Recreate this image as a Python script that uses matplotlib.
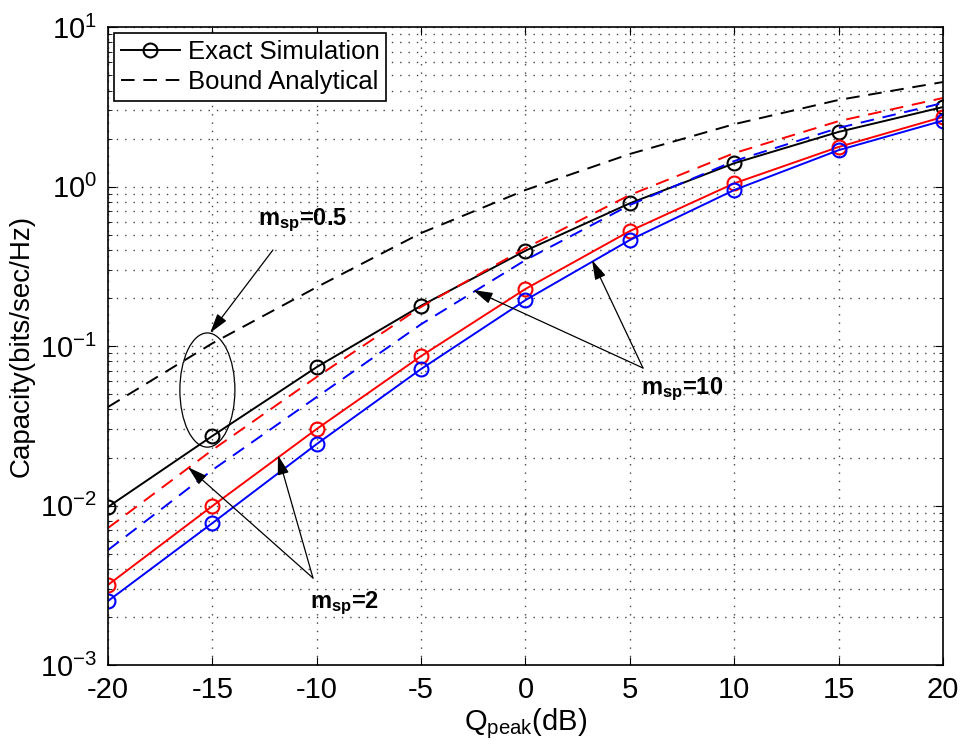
import matplotlib
matplotlib.use('Agg')
import matplotlib.pyplot as plt
from matplotlib.patches import Ellipse
from matplotlib.ticker import LogLocator, FixedLocator

plt.rcParams['font.family'] = ['Liberation Sans', 'DejaVu Sans']
plt.rcParams['mathtext.fontset'] = 'custom'
plt.rcParams['mathtext.rm'] = 'Liberation Sans'
plt.rcParams['mathtext.it'] = 'Liberation Sans'
plt.rcParams['mathtext.bf'] = 'Liberation Sans:bold'
plt.rcParams['axes.unicode_minus'] = False

# Q_peak in dB
q_db = [-20, -15, -10, -5, 0, 5, 10, 15, 20]

# m_sp = 0.5 (black)
exact_05 = [0.0098, 0.0273, 0.0738, 0.179, 0.396, 0.785, 1.40, 2.20, 3.15]
bound_05 = [0.0415, 0.104, 0.234, 0.511, 0.951, 1.60, 2.46, 3.49, 4.52]
# m_sp = 2 (red)
exact_2 = [0.00318, 0.00993, 0.0302, 0.0865, 0.228, 0.526, 1.047, 1.77, 2.73]
bound_2 = [0.00723, 0.0223, 0.0640, 0.176, 0.411, 0.885, 1.62, 2.57, 3.59]
# m_sp = 10 (blue)
exact_10 = [0.00252, 0.00776, 0.0243, 0.0718, 0.194, 0.462, 0.951, 1.69, 2.59]
bound_10 = [0.00526, 0.0167, 0.0479, 0.137, 0.346, 0.766, 1.445, 2.33, 3.34]

x_ticks = [-20, -15, -10, -5, 0, 5, 10, 15, 20]

fig = plt.figure(figsize=(9.62, 7.51), dpi=100)
ax = fig.add_axes([0.1123, 0.1145, 0.8679, 0.8495])

lw = 1.4
ms = 10
dsh = (7, 4.5)
ax.semilogy(q_db, exact_05, '-', color='k', lw=lw, marker='o', ms=ms,
            mfc='none', mew=1.5, label='Exact Simulation')
ax.semilogy(q_db, bound_05, '--', color='k', lw=lw, dashes=dsh,
            label='Bound Analytical')
ax.semilogy(q_db, exact_2, '-', color='r', lw=lw, marker='o', ms=ms,
            mfc='none', mew=1.5)
ax.semilogy(q_db, bound_2, '--', color='r', lw=lw, dashes=dsh)
ax.semilogy(q_db, exact_10, '-', color='b', lw=lw, marker='o', ms=ms,
            mfc='none', mew=1.5)
ax.semilogy(q_db, bound_10, '--', color='b', lw=lw, dashes=dsh)

ax.set_xlim(-20, 20)
ax.set_ylim(1e-3, 1e1)
ax.xaxis.set_major_locator(FixedLocator(x_ticks))
ax.yaxis.set_major_locator(LogLocator(base=10, numticks=10))
ax.yaxis.set_minor_locator(LogLocator(base=10, subs=range(2, 10), numticks=10))

grid_kw = dict(linestyle=(0, (1, 5)), color='#444444', lw=1.0)
ax.grid(True, which='major', **grid_kw)
ax.grid(True, which='minor', axis='y', **grid_kw)
ax.tick_params(which='both', direction='in', top=True, right=True,
               labelsize=21, pad=8)
ax.tick_params(which='major', length=6)
ax.tick_params(which='minor', length=3)
for s in ax.spines.values():
    s.set_linewidth(1.2)

ax.set_xlabel(r'Q$_{\mathrm{peak}}$(dB)', fontsize=21, labelpad=2)
ax.set_ylabel('Capacity(bits/sec/Hz)', fontsize=20, labelpad=4)

leg = ax.legend(loc='upper left', fontsize=18.5, frameon=True, fancybox=False,
                edgecolor='k', framealpha=1, borderaxespad=0.25,
                handlelength=2.3, handletextpad=0.3, borderpad=0.25,
                labelspacing=0.25)
leg.get_frame().set_linewidth(1.2)

# annotations
arrow_kw = dict(arrowstyle='-|>,head_length=1.2,head_width=0.35',
                color='k', lw=0.9, shrinkA=0, shrinkB=0)
ax.text(-12.81, 0.574, r'm$_{\mathbf{sp}}$=0.5', fontsize=17,
        fontweight='bold')
ax.annotate('', xy=(-15.11, 0.1208), xytext=(-12.10, 0.400),
            arrowprops=arrow_kw)
ax.add_patch(Ellipse((0.119, 0.431), 0.0659, 0.179, transform=ax.transAxes,
                     fill=False, edgecolor='k', lw=0.9))

ax.text(-10.32, 0.00228, r'm$_{\mathbf{sp}}$=2', fontsize=17,
        fontweight='bold')
ax.annotate('', xy=(-16.17, 0.0174), xytext=(-10.18, 0.00351),
            arrowprops=arrow_kw)
ax.annotate('', xy=(-11.86, 0.0207), xytext=(-10.18, 0.00351),
            arrowprops=arrow_kw)

ax.text(5.52, 0.050, r'm$_{\mathbf{sp}}$=10', fontsize=17,
        fontweight='bold')
ax.annotate('', xy=(-2.515, 0.2245), xytext=(5.63, 0.0728),
            arrowprops=arrow_kw)
ax.annotate('', xy=(3.186, 0.346), xytext=(5.63, 0.0728),
            arrowprops=arrow_kw)

fig.savefig('out.png', dpi=100)
